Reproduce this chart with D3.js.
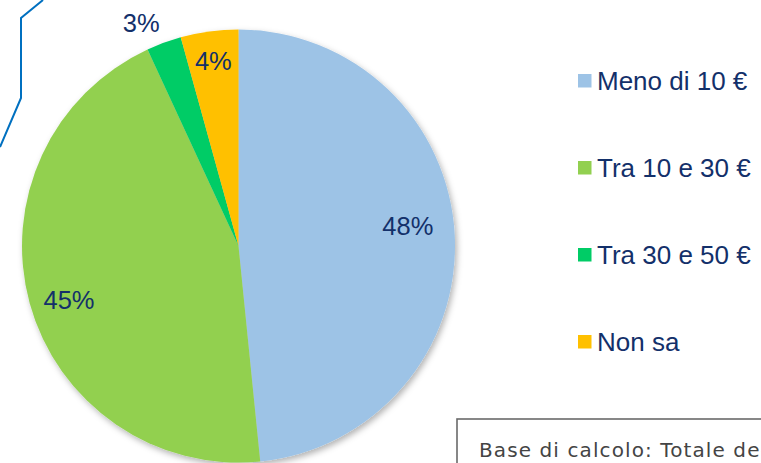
<!DOCTYPE html>
<html>
<head>
<meta charset="utf-8">
<script src="https://cdn.jsdelivr.net/npm/d3@7"></script>
<style>
  body { margin: 0; background: #fff; }
  svg { display: block; }
</style>
</head>
<body>
<div class="chart"></div>
<script>
// chart data
const categories = ["Meno di 10 €", "Tra 10 e 30 €", "Tra 30 e 50 €", "Non sa"];
const values = [48.4, 44.7, 2.6, 4.3];
const labels = ["48%", "45%", "3%", "4%"];
const colors = ["#9DC3E6", "#92D050", "#00CC66", "#FFC000"];

const width = 761, height = 463;
const cx = 238.5, cy = 246, radius = 216.5;
const textColor = "#13306A";

let svg = d3.select(".chart")
    .append("svg")
    .attr("width", width)
    .attr("height", height);

// decorative blue line at top-left
svg.append("path")
    .attr("d", d3.line()([[43, 0], [21, 18], [21, 98], [0, 147]]))
    .attr("fill", "none")
    .attr("stroke", "#0070C0")
    .attr("stroke-width", 2);

// soft shadow under the pie
let defs = svg.append("defs");
let filter = defs.append("filter").attr("id", "shadow")
    .attr("x", "-10%").attr("y", "-10%").attr("width", "120%").attr("height", "120%");
filter.append("feDropShadow")
    .attr("dx", 2).attr("dy", 3).attr("stdDeviation", 3)
    .attr("flood-color", "#000").attr("flood-opacity", 0.3);

let pie = d3.pie().sort(null).value(d => d)(values);
let arc = d3.arc().innerRadius(0).outerRadius(radius);

let g = svg.append("g")
    .attr("transform", "translate(" + cx + "," + cy + ")");

g.append("g").attr("filter", "url(#shadow)")
    .selectAll("path")
    .data(pie)
    .enter().append("path")
    .attr("d", arc)
    .attr("fill", (d, i) => colors[i]);

// label placement: radius fraction and small angle nudge (degrees)
let labelRadius = [0.788, 0.822, 1.124, 0.863];
let labelNudge = [-4, -2.4, -3.4, 0];
g.selectAll(".label")
    .data(pie)
    .enter().append("text")
    .attr("class", "label")
    .attr("transform", (d, i) => {
        let r = radius * labelRadius[i];
        let a = (d.startAngle + d.endAngle) / 2 + labelNudge[i] * Math.PI / 180;
        return "translate(" + (r * Math.sin(a)) + "," + (-r * Math.cos(a)) + ")";
    })
    .attr("dy", "0.36em")
    .attr("text-anchor", "middle")
    .style("font-family", "Liberation Sans, Arial, sans-serif")
    .style("font-size", "25.5px")
    .style("fill", textColor)
    .text((d, i) => labels[i]);

// legend
let legendY = d3.scalePoint().domain(categories).range([80.7, 341.7]);
let legend = svg.append("g").selectAll("g")
    .data(categories)
    .enter().append("g")
    .attr("transform", d => "translate(578," + legendY(d) + ")");

legend.append("rect")
    .attr("x", 0).attr("y", -6.7)
    .attr("width", 13.5).attr("height", 13.5)
    .attr("fill", (d, i) => colors[i]);

legend.append("text")
    .attr("x", 19).attr("dy", "0.36em")
    .style("font-family", "Liberation Sans, Arial, sans-serif")
    .style("font-size", "26px")
    .style("fill", textColor)
    .text(d => d);

// base note box (cut off at the right edge, as in the source)
svg.append("rect")
    .attr("x", 457).attr("y", 419)
    .attr("width", 400).attr("height", 80)
    .attr("fill", "#fff")
    .attr("stroke", "#6a6a6a")
    .attr("stroke-width", 1.6);

svg.append("text")
    .attr("x", 479).attr("y", 457)
    .style("font-family", "DejaVu Sans, sans-serif")
    .style("font-size", "20px")
    .style("letter-spacing", "1.1px")
    .style("fill", "#444")
    .text("Base di calcolo: Totale degli intervistati");
</script>
</body>
</html>
